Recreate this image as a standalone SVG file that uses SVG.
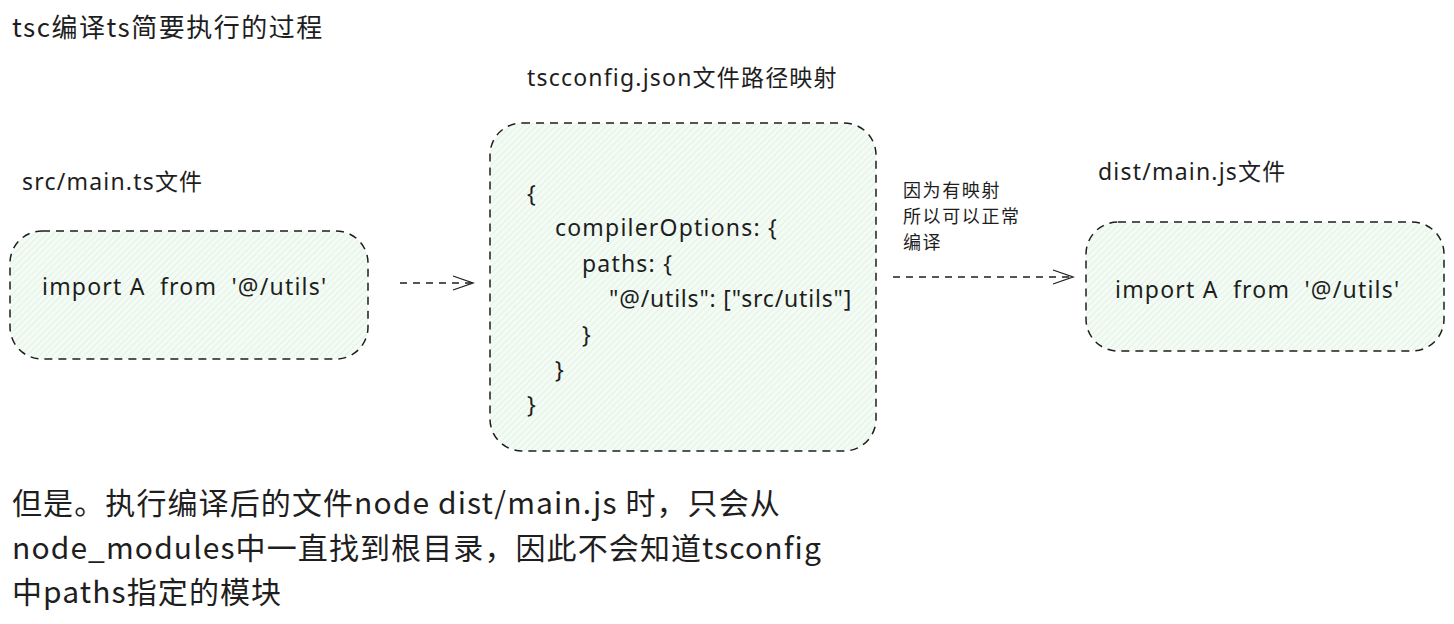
<svg xmlns="http://www.w3.org/2000/svg" width="1454" height="624" viewBox="0 0 1454 624">
<style>
.t{font-family:"Noto Sans","Noto Sans CJK SC",sans-serif;fill:#1e1e1e;font-size:23px;letter-spacing:1.2px}
.s{font-family:"Noto Sans CJK SC","Noto Sans",sans-serif;fill:#1e1e1e}
.box{fill:url(#hatch);stroke:#1e1e1e;stroke-width:1.5;stroke-dasharray:8 6}
.conn{fill:none;stroke:#1e1e1e;stroke-width:1.3;stroke-dasharray:7 6}
</style>
<defs>
<pattern id="hatch" patternUnits="userSpaceOnUse" width="4.5" height="4.5" patternTransform="rotate(45)">
<rect width="4.5" height="4.5" fill="#f4fbf5"/>
<line x1="0" y1="0" x2="0" y2="4.5" stroke="#d5f0da" stroke-width="1.2"/>
</pattern>
<marker id="arr" markerWidth="24" markerHeight="16" refX="22" refY="8" orient="auto" markerUnits="userSpaceOnUse">
<path d="M2,1 L22,8 L2,15" fill="none" stroke="#1e1e1e" stroke-width="1.3"/>
</marker>
</defs>
<text class="s" x="12" y="37" font-size="26" letter-spacing="1.5">tsc编译ts简要执行的过程</text>
<g id="src">
<text class="t" x="22" y="190">src/main.ts文件</text>
<rect class="box" x="10" y="231" width="358" height="128" rx="32"/>
<text class="t" x="42" y="295" xml:space="preserve">import A  from  '@/utils'</text>
</g>
<g id="config">
<text class="t" x="527" y="86">tscconfig.json文件路径映射</text>
<rect class="box" x="490" y="123" width="386" height="328" rx="32"/>
<text class="t">
<tspan x="527" y="202">{</tspan>
<tspan x="555" y="236">compilerOptions: {</tspan>
<tspan x="582" y="272">paths: {</tspan>
<tspan x="609" y="307" letter-spacing="0.8">"@/utils": ["src/utils"]</tspan>
<tspan x="582" y="343">}</tspan>
<tspan x="555" y="378">}</tspan>
<tspan x="527" y="413">}</tspan>
</text>
</g>
<g id="dist">
<text class="t" x="1098" y="180">dist/main.js文件</text>
<rect class="box" x="1086" y="222" width="358" height="129" rx="32"/>
<text class="t" x="1115" y="298" xml:space="preserve">import A  from  '@/utils'</text>
</g>
<g id="connectors">
<line class="conn" x1="400" y1="283" x2="473" y2="283" marker-end="url(#arr)"/>
<line class="conn" x1="893" y1="277" x2="1073" y2="277" marker-end="url(#arr)"/>
<text class="s" font-size="18" letter-spacing="1.6">
<tspan x="903" y="197">因为有映射</tspan>
<tspan x="903" y="223">所以可以正常</tspan>
<tspan x="903" y="249">编译</tspan>
</text>
</g>
<text class="s" font-size="30" letter-spacing="1.1">
<tspan x="12" y="514">但是。执行编译后的文件node dist/main.js 时，只会从</tspan>
<tspan x="12" y="559">node_modules中一直找到根目录，因此不会知道tsconfig</tspan>
<tspan x="12" y="603">中paths指定的模块</tspan>
</text>
</svg>
